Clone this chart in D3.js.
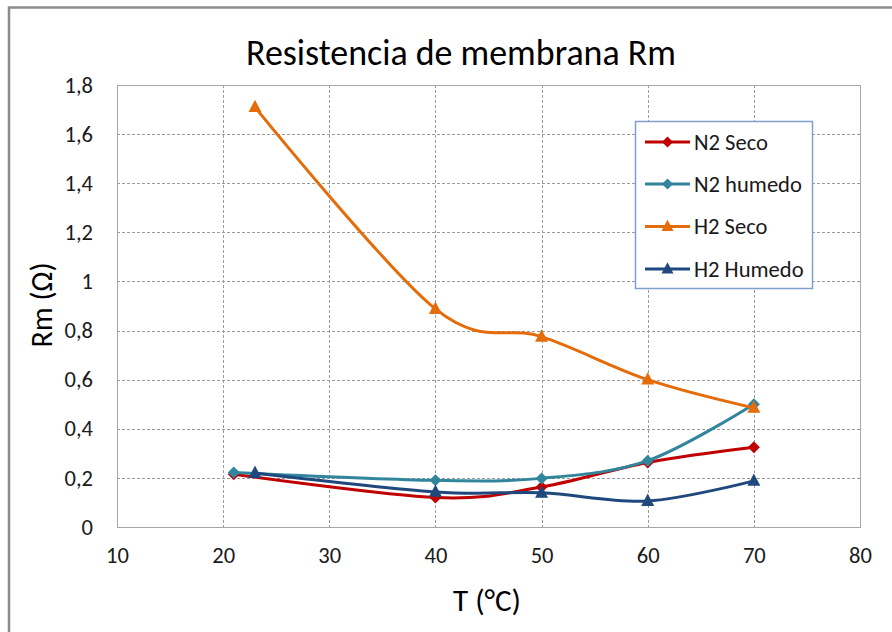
<!DOCTYPE html>
<html>
<head>
<meta charset="utf-8">
<script src="https://cdn.jsdelivr.net/npm/d3@7"></script>
<style>
  html, body { margin: 0; padding: 0; background: #ffffff; }
  svg { display: block; font-family: Carlito, Lato, "Open Sans", sans-serif; }
</style>
</head>
<body>
<svg id="chart" width="892" height="632"></svg>
<script>
// Membrane resistance Rm vs temperature for four gas conditions
const seriesNames = ["N2 Seco", "N2 humedo", "H2 Seco", "H2 Humedo"];
const seriesColors = ["#c00000", "#31859c", "#e46c0a", "#1f497d"];
const seriesMarkers = ["diamond", "diamond", "triangle", "triangle"];

const tempN2 = [21, 40, 50, 60, 70];
const tempH2 = [23, 40, 50, 60, 70];

const n2Seco   = [0.215, 0.12, 0.163, 0.263, 0.325];
const n2Humedo = [0.222, 0.19, 0.198, 0.27, 0.50];
const h2Seco   = [1.71, 0.888, 0.775, 0.60, 0.485];
const h2Humedo = [0.22, 0.143, 0.139, 0.106, 0.188];

const xTicks = [10, 20, 30, 40, 50, 60, 70, 80];
const yTicks = [0, 0.2, 0.4, 0.6, 0.8, 1, 1.2, 1.4, 1.6, 1.8];

const titleText = "Resistencia de membrana Rm";
const xTitle = "T (°C)";
const yTitle = "Rm (Ω)";

const series = [
  { name: seriesNames[0], x: tempN2, y: n2Seco },
  { name: seriesNames[1], x: tempN2, y: n2Humedo },
  { name: seriesNames[2], x: tempH2, y: h2Seco },
  { name: seriesNames[3], x: tempH2, y: h2Humedo }
].map((s, i) => ({
  ...s,
  color: seriesColors[i],
  marker: seriesMarkers[i],
  points: s.x.map((xv, j) => [xv, s.y[j]])
}));

const svg = d3.select("#chart");
const plot = { left: 117, top: 85, right: 860, bottom: 527 };

const x = d3.scaleLinear().domain([10, 80]).range([plot.left, plot.right]);
const y = d3.scaleLinear().domain([0, 1.8]).range([plot.bottom, plot.top]);

const locale = d3.formatLocale({ decimal: ",", thousands: ".", grouping: [3], currency: ["", " €"] });
const fmt = locale.format(".1~f");

// Scale a text's font size so its rendered width equals the given width
function fitWidth(sel, width) {
  const base = parseFloat(sel.attr("font-size"));
  const w = sel.node().getComputedTextLength();
  sel.attr("font-size", base * width / w);
  return base * width / w;
}

// Outer chart frame (extends past the visible area on right and bottom)
svg.append("rect")
  .attr("x", 9).attr("y", 7.5)
  .attr("width", 900).attr("height", 640)
  .attr("fill", "none")
  .attr("stroke", "#8c8c8c")
  .attr("stroke-width", 2.5);

// Title
const title = svg.append("text")
  .attr("x", 461).attr("y", 65)
  .attr("text-anchor", "middle")
  .attr("fill", "#000")
  .attr("font-size", 30)
  .text(titleText);
fitWidth(title, 430);

// Gridlines
const grid = svg.append("g").attr("stroke", "#9a9a9a").attr("stroke-width", 1)
  .attr("stroke-dasharray", "3,2").attr("shape-rendering", "crispEdges");
grid.selectAll("line.h").data(yTicks.filter(t => t > 0 && t < 1.8)).join("line")
  .attr("class", "h")
  .attr("x1", plot.left).attr("x2", plot.right)
  .attr("y1", d => Math.round(y(d)) + 0.5).attr("y2", d => Math.round(y(d)) + 0.5);
grid.selectAll("line.v").data(xTicks.filter(t => t > 10 && t < 80)).join("line")
  .attr("class", "v")
  .attr("y1", plot.top).attr("y2", plot.bottom)
  .attr("x1", d => Math.round(x(d)) + 0.5).attr("x2", d => Math.round(x(d)) + 0.5);

// Plot area border
svg.append("rect")
  .attr("x", plot.left + 0.5).attr("y", plot.top + 0.5)
  .attr("width", plot.right - plot.left).attr("height", plot.bottom - plot.top)
  .attr("fill", "none").attr("stroke", "#a6a6a6").attr("stroke-width", 1.5)
  .attr("shape-rendering", "crispEdges");

// Axes
const xAxis = svg.append("g")
  .attr("transform", `translate(0,${plot.bottom})`)
  .call(d3.axisBottom(x).tickValues(xTicks).tickSize(0).tickPadding(20).tickFormat(d3.format("d")));
const yAxis = svg.append("g")
  .attr("transform", `translate(${plot.left},0)`)
  .call(d3.axisLeft(y).tickValues(yTicks).tickSize(0).tickPadding(24).tickFormat(fmt));
xAxis.select(".domain").remove();
yAxis.select(".domain").remove();
{
  // tick label size taken from the width of "1,8"
  const probe = yAxis.selectAll("text").filter(d => d === 1.8)
    .attr("font-size", 19).attr("font-family", "Carlito, Lato, 'Open Sans', sans-serif");
  const tickSize = fitWidth(probe, 28.5);
  [xAxis, yAxis].forEach(a => a.selectAll("text")
    .attr("font-size", tickSize).attr("fill", "#1a1a1a")
    .attr("font-family", "Carlito, Lato, 'Open Sans', sans-serif"));
}

// Axis titles
const xt = svg.append("text")
  .attr("x", 487).attr("y", 611)
  .attr("text-anchor", "middle")
  .attr("font-size", 27).attr("fill", "#000")
  .text(xTitle);
fitWidth(xt, 68);
const yt = svg.append("text")
  .attr("transform", "translate(52,305) rotate(-90)")
  .attr("text-anchor", "middle")
  .attr("font-size", 25).attr("fill", "#000")
  .text(yTitle);
fitWidth(yt, 85);

// Marker shapes
function markerPath(type, size) {
  if (type === "diamond") {
    const r = size / 2;
    return `M0,${-r}L${r},0L0,${r}L${-r},0Z`;
  }
  const h = size * 0.95, w = size;
  return `M0,${-h * 0.6}L${w / 2},${h * 0.4}L${-w / 2},${h * 0.4}Z`;
}

const line = d3.line()
  .x(d => x(d[0]))
  .y(d => y(d[1]))
  .curve(d3.curveCatmullRom.alpha(0));

const seriesG = svg.append("g");
series.forEach(s => {
  const g = seriesG.append("g");
  g.append("path")
    .attr("d", line(s.points))
    .attr("fill", "none")
    .attr("stroke", s.color)
    .attr("stroke-width", 3)
    .attr("stroke-linejoin", "round")
    .attr("stroke-linecap", "round");
  g.selectAll("path.m").data(s.points).join("path")
    .attr("class", "m")
    .attr("transform", d => `translate(${x(d[0])},${y(d[1])})`)
    .attr("d", markerPath(s.marker, s.marker === "diamond" ? 12 : 13))
    .attr("fill", s.color);
});

// Legend
const legend = svg.append("g");
legend.append("rect")
  .attr("x", 635.5).attr("y", 121.5)
  .attr("width", 177).attr("height", 167)
  .attr("fill", "#fff").attr("stroke", "#7fa0cf").attr("stroke-width", 1.5);
const legendY = [142, 184, 226.5, 269];
const legendTexts = [];
series.forEach((s, i) => {
  const row = legend.append("g").attr("transform", `translate(0,${legendY[i]})`);
  row.append("line")
    .attr("x1", 645).attr("x2", 690)
    .attr("stroke", s.color).attr("stroke-width", 3);
  row.append("path")
    .attr("transform", "translate(667.5,0)")
    .attr("d", markerPath(s.marker, s.marker === "diamond" ? 11 : 12))
    .attr("fill", s.color);
  legendTexts.push(row.append("text")
    .attr("x", 694).attr("y", 0).attr("dy", "0.35em")
    .attr("font-size", 19).attr("fill", "#1a1a1a")
    .text(s.name));
});
{
  // legend font size from the width of "N2 humedo"
  const legendSize = fitWidth(legendTexts[1], 108);
  legendTexts.forEach(t => t.attr("font-size", legendSize));
}
</script>
</body>
</html>
